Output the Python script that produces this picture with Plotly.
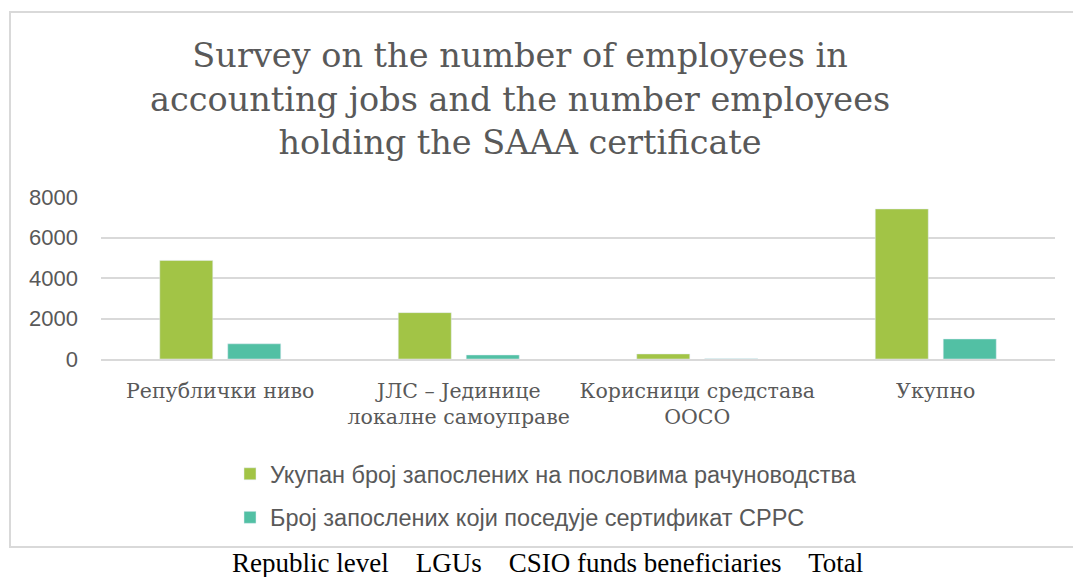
import plotly.graph_objects as go

# Categories (Serbian Cyrillic labels) and series values
categories = [
    "Републички ниво",
    "ЈЛС – Јединице<br>локалне самоуправе",
    "Корисници средстава<br>ООСО",
    "Укупно",
]
series_names = [
    "Укупан број запослених на пословима рачуноводства",
    "Број запослених који поседује сертификат СРРС",
]
total_employees = [4870, 2290, 250, 7410]
certified_employees = [750, 200, 10, 990]
y_ticks = [0, 2000, 4000, 6000, 8000]
title_lines = [
    "Survey on the number of employees in",
    "accounting jobs and the number employees",
    "holding the SAAA certificate",
]

GREEN = "#A2C446"
TEAL = "#52C0A4"
GRID = "#D9D9D9"
TEXT = "#595959"

W, H = 1073, 577
L, R = 101, 1055          # plot area x-extent (px)
TOP, BOTTOM = 197, 359    # plot area y-extent (px)

fig = go.Figure()
fig.add_trace(go.Bar(x=categories, y=total_employees, name=series_names[0],
                     marker_color=GREEN, legendgroup="a"))
fig.add_trace(go.Bar(x=categories, y=certified_employees, name=series_names[1],
                     marker_color=TEAL, legendgroup="b"))


def px_x(p):
    return (p - L) / (R - L)


def px_y(p):
    return (BOTTOM - p) / (BOTTOM - TOP)


annotations = [dict(
    text="<br>".join(title_lines),
    xref="paper", yref="paper", x=px_x(520), y=px_y(99),
    xanchor="center", yanchor="middle", showarrow=False,
    font=dict(family="DejaVu Serif", size=33.5, color=TEXT),
)]
annotations.append(dict(
    text="Republic level    LGUs    CSIO funds beneficiaries    Total",
    xref="paper", yref="paper", x=px_x(547), y=px_y(563),
    xanchor="center", yanchor="middle", showarrow=False,
    font=dict(family="Liberation Serif", size=27, color="black"),
))

fig.update_layout(
    width=W, height=H,
    margin=dict(l=L, r=W - R, t=TOP, b=H - BOTTOM, pad=0),
    paper_bgcolor="white", plot_bgcolor="white",
    barmode="group", bargap=0.43, bargroupgap=0.22,
    xaxis=dict(
        showgrid=False, showline=True, linecolor=GRID, linewidth=2,
        ticks="", tickfont=dict(family="DejaVu Serif", size=20.5, color=TEXT),
        ticklabelstandoff=12,
    ),
    yaxis=dict(
        range=[0, 8000], tickvals=y_ticks, showgrid=True, gridcolor=GRID,
        gridwidth=2, zeroline=False, showline=False, ticks="",
        tickfont=dict(family="Liberation Sans", size=22, color=TEXT),
        ticklabelstandoff=22,
    ),
    legend=dict(
        orientation="v", x=px_x(230), xanchor="left",
        y=px_y(452), yanchor="top", tracegroupgap=10,
        font=dict(family="Liberation Sans", size=23.5, color=TEXT),
        bgcolor="rgba(0,0,0,0)",
    ),
    showlegend=True,
    shapes=[dict(
        type="rect", xref="paper", yref="paper",
        x0=px_x(10), x1=px_x(1090), y0=px_y(547), y1=px_y(12),
        line=dict(color=GRID, width=2), fillcolor="rgba(0,0,0,0)", layer="below",
    )],
    annotations=annotations,
)

fig.write_html("out.html")
